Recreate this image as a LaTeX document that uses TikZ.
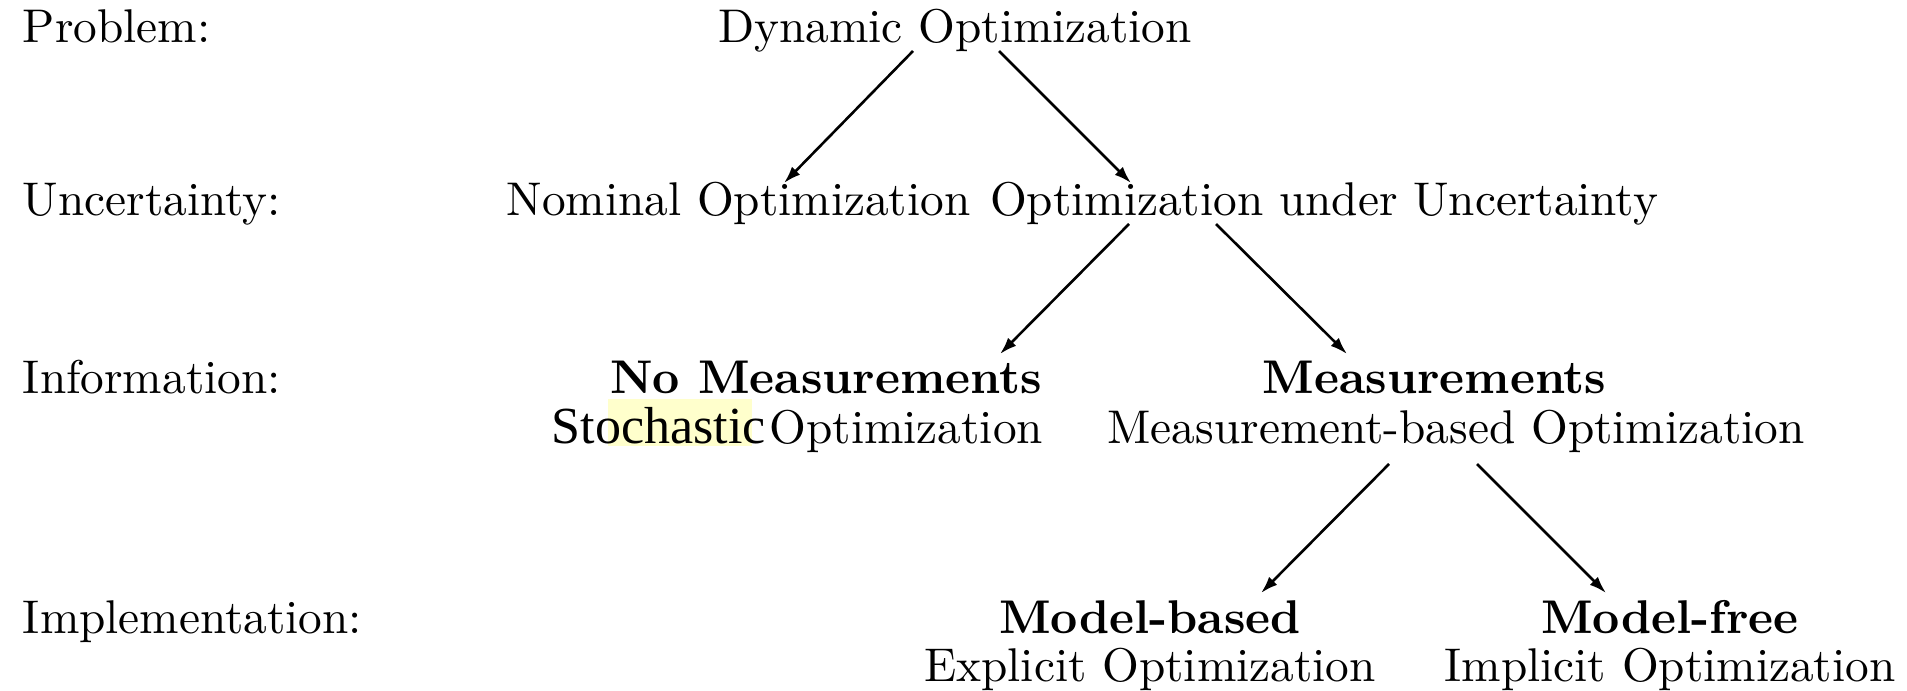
\documentclass[tikz,border=0pt]{standalone}
\usepackage{fontspec}
\newfontfamily\timesfont{Liberation Serif}
\usetikzlibrary{calc,arrows.meta}
\definecolor{hl}{RGB}{255,255,204}
\begin{document}
\begin{tikzpicture}[x=0.2114pt,y=-0.2114pt,
  txt/.style={inner sep=0pt, anchor=base},
  lab/.style={inner sep=0pt, anchor=base west},
  arr/.style={line width=0.55pt, -{Latex[length=3.6pt,width=2.4pt]}}]
\fill[white] (0,0) rectangle (1907,690);
\useasboundingbox (0,0) rectangle (1907,690);
% row labels
\node[lab] (lprob) at (22,42) {Problem:};
\node[lab] (lunc) at (22,215) {Uncertainty:};
\node[lab] (linf) at (22,393) {Information:};
\node[lab] (limp) at (22,633) {Implementation:};
% tree
\node[txt] (dyn) at (955,42) {Dynamic Optimization};
\node[txt] (nom) at (738.5,215) {Nominal Optimization};
\node[txt] (unc) at (1324,215) {Optimization under Uncertainty};
\node[txt] (nomeas) at (826,393) {\bfseries No Measurements};
\fill[hl] (608,399) rectangle (752,446);
\node[lab] (sto) at (551,443) {\timesfont\fontsize{11}{13}\selectfont Stochastic};
\node[inner sep=0pt, anchor=base east] (stopt) at (1044,443) {Optimization};
\node[txt] (meas) at (1434.5,393) {\bfseries Measurements};
\node[txt] (measb) at (1456,443) {Measurement-based Optimization};
\node[txt] (mb) at (1150,633) {\bfseries Model-based};
\node[txt] (mbx) at (1150,681) {Explicit Optimization};
\node[txt] (mf) at (1670,633) {\bfseries Model-free};
\node[txt] (mfx) at (1670,681) {Implicit Optimization};
% arrows
\draw[arr] ($(dyn.base)+(-42,9)$) -- ($(nom.base)+(45.5,-32)$);
\draw[arr] ($(dyn.base)+(44,9)$) -- ($(unc.base)+(-193,-32)$);
\draw[arr] ($(unc.base)+(-195,9)$) -- ($(nomeas.base)+(174,-39)$);
\draw[arr] ($(unc.base)+(-108,9)$) -- ($(meas.base)+(-87.5,-39)$);
\draw[arr] ($(measb.base)+(-67,21)$) -- ($(mb.base)+(111,-40)$);
\draw[arr] ($(measb.base)+(21,21)$) -- ($(mf.base)+(-64,-40)$);
\end{tikzpicture}
\end{document}
